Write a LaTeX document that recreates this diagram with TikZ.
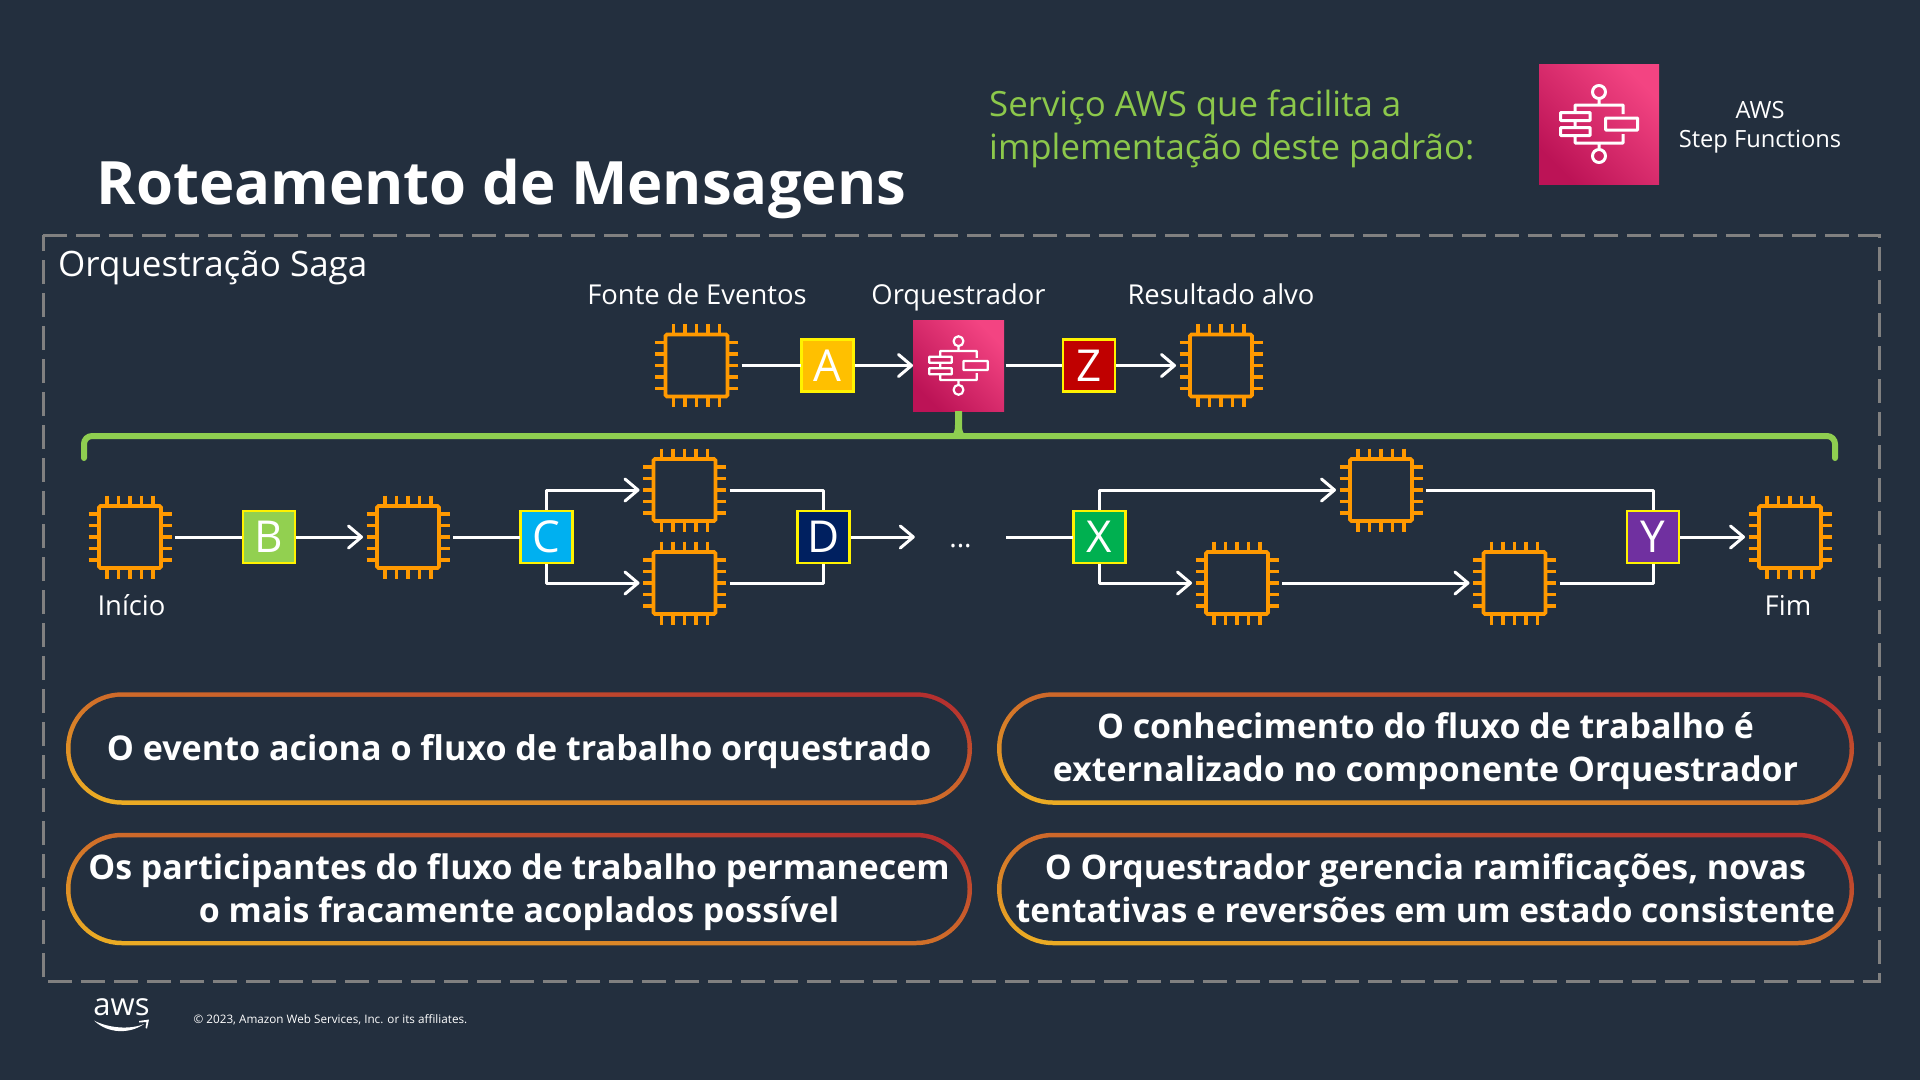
\documentclass[tikz,border=0pt]{standalone}
\usepackage{fontspec}
\setmainfont{Open Sans}
\usetikzlibrary{arrows.meta,calc}
\definecolor{slidebg}{HTML}{232F3E}
\definecolor{chiporange}{HTML}{FF9900}
\definecolor{bracegreen}{HTML}{8FCE50}
\definecolor{titlegreen}{HTML}{8CC84B}
\definecolor{framegrey}{HTML}{808080}
\definecolor{pinkdark}{HTML}{BC1356}
\definecolor{pinklight}{HTML}{F34482}
\definecolor{pillred}{HTML}{B5302F}
\definecolor{pillorange}{HTML}{EBAB24}
\newcommand{\fsize}[1]{\fontsize{#1}{#1}\selectfont}
\newcommand{\ps}{\vrule height 32pt depth 8pt width 0pt}
\tikzstyle{every picture}=[> = {Straight Barb[length=13pt,width=22pt,line cap=round,round]}]
\tikzstyle{flow}=[draw=white,line width=3pt,line join=round]
\tikzstyle{chipbox}=[draw=chiporange,line width=3.6pt,rounded corners=1.5pt,minimum size=62pt,inner sep=0pt,outer sep=14pt]
\tikzstyle{chippin}=[draw=chiporange,line width=3.6pt]
\tikzstyle{tagbox}=[draw=yellow,line width=2.2pt,minimum size=52pt,inner sep=0pt,outer sep=1pt,text=white,font=\fsize{44}]
\tikzstyle{iconbox}=[shading=axis,top color=pinklight,bottom color=pinkdark,shading angle=-45,inner sep=0pt,outer sep=0pt]
\tikzstyle{caption}=[anchor=base,text=white,font=\fsize{27.4},inner sep=0pt]
\tikzstyle{pillouter}=[shading=axis,top color=pillred,bottom color=pillorange,shading angle=-7,rounded corners=56pt,minimum height=112.5pt,inner sep=0pt]
\tikzstyle{pillinner}=[fill=slidebg,rounded corners=51.5pt,minimum height=103.5pt,inner sep=0pt,text=white,align=center,font=\fontsize{33.9}{43}\selectfont\bfseries]
\newcommand{\chipnode}[2]{%
  \node[chipbox] (#1) at (#2) {};
  \foreach \d in {-23,-11.5,0,11.5,23} {
    \draw[chippin] (#1.center) ++(\d,-41.5) -- ++(0,10);
    \draw[chippin] (#1.center) ++(\d,41.5) -- ++(0,-10);
    \draw[chippin] (#1.center) ++(-41.5,\d) -- ++(10,0);
    \draw[chippin] (#1.center) ++(41.5,\d) -- ++(-10,0);
  }}
\newcommand{\pillnode}[5]{%
  \node[pillouter,minimum width=#3pt] (#1) at (#2) {};
  \node[pillinner,minimum width=#4pt] (#1text) at (#1.center) {#5};}
\tikzset{
  stepicon/.pic={
    \tikzset{x=1pt,y=-1pt}
    \draw[white,line width=#1,line join=round]
      (0,-32) circle (6.5)
      (0,-25.5) -- (0,-19)
      (-24,-11.5) -- (-24,-19) -- (24,-19) -- (24,-10)
      (-38.5,-11.5) rectangle (-9,-3.5)
      (-24,-3.5) -- (-24,3.5)
      (-38.5,3.5) rectangle (-9,11.5)
      (-24,11.5) -- (-24,19) -- (24,19) -- (24,10)
      (6.5,-6) rectangle (38.5,6)
      (0,19) -- (0,25.5)
      (0,32) circle (6.5);
  }
}
\begin{document}
\begin{tikzpicture}[x=1pt,y=-1pt]
  \fill[slidebg,use as bounding box] (0,0) rectangle (1920,1080);

  \node[anchor=base west,inner sep=0pt,text=white,font=\fsize{59.8}\bfseries] (title) at (96.5,204) {Roteamento de Mensagens};
  \node[anchor=west,inner sep=0pt,text=titlegreen,align=left,font=\fontsize{34.8}{43}\selectfont] (service) at (989,129) {Serviço AWS que facilita a\\implementação deste padrão:};
  \node[iconbox,minimum size=120pt] (stepfn) at (1599,124) {};
  \pic[scale=1] at (stepfn.center) {stepicon={3pt}};
  \node[text=white,inner sep=0pt,align=center,font=\fontsize{23.7}{29}\selectfont] (stepname) at (1760,127.5) {AWS\\Step Functions};

  \draw[framegrey,line width=3pt,dash pattern=on 24pt off 9pt] (43,235) -- (1879,235) -- (1879,981) -- (43,981) -- cycle;
  \node[anchor=base west,inner sep=0pt,text=white,font=\fsize{35}] (saga) at (58,276) {Orquestração Saga};

  \node[caption] (sourcelabel) at (697,304.5) {Fonte de Eventos};
  \node[caption] (orchlabel) at (958.5,304.5) {Orquestrador};
  \node[caption] (resultlabel) at (1221,304.5) {Resultado alvo};

  \chipnode{source}{696.5,365.5}
  \chipnode{result}{1221,365.5}
  \node[iconbox,minimum size=91pt] (orch) at (958.5,365.5) {};
  \pic[scale=.76] at (orch.center) {stepicon={2.2pt}};
  \node[tagbox,fill={rgb,255:red,255;green,192;blue,0}] (tagA) at (827.5,365.5) {A};
  \node[tagbox,fill={rgb,255:red,192;green,0;blue,0}] (tagZ) at (1089,365.5) {Z};
  \draw[flow] (source.east) to (tagA);
  \draw[flow,->] (tagA) to (orch);
  \draw[flow] (orch) ++(47,0) to (tagZ);
  \draw[flow,->] (tagZ) to (result.west);

  \coordinate (braceleft) at (84,458);
  \coordinate (braceright) at (1835,458);
  \coordinate (bracemid) at (958.5,436);
  \draw[bracegreen,line width=6pt,rounded corners=8pt,line cap=round] (braceleft) |- (bracemid) -| (braceright);
  \fill[bracegreen] (955,411) -- (962,411) -- (962,425) .. controls (962,431) and (963,433) .. (966,436) -- (951,436) .. controls (954,433) and (955,431) .. (955,425) -- cycle;

  \chipnode{start}{130,537}
  \chipnode{second}{408,537}
  \chipnode{upperC}{684.5,490}
  \chipnode{lowerC}{684.5,583}
  \chipnode{upperX}{1381,490}
  \chipnode{lowerX}{1237,583}
  \chipnode{nextX}{1514.5,583}
  \chipnode{finish}{1790,537}

  \node[tagbox,fill={rgb,255:red,146;green,208;blue,80}] (tagB) at (269,537) {B};
  \node[tagbox,fill={rgb,255:red,0;green,176;blue,240}] (tagC) at (546.5,537) {C};
  \node[tagbox,fill={rgb,255:red,0;green,32;blue,96}] (tagD) at (823.5,537) {D};
  \node[tagbox,fill={rgb,255:red,0;green,176;blue,80}] (tagX) at (1099.5,537) {X};
  \node[tagbox,fill={rgb,255:red,112;green,48;blue,160}] (tagY) at (1653,537) {Y};
  \node[inner sep=0pt,minimum width=91pt,text height=20pt,text depth=0pt,text=white,font=\fsize{28}] (dots) at (960.5,537) {...};

  \draw[flow] (start.east) to (tagB);
  \draw[flow,->] (tagB) to (second.west);
  \draw[flow] (second.east) to (tagC);
  \draw[flow,->] (tagC.north) |- (upperC.west);
  \draw[flow,->] (tagC.south) |- (lowerC.west);
  \draw[flow] (upperC.east) -| (tagD.north);
  \draw[flow] (lowerC.east) -| (tagD.south);
  \draw[flow,->] (tagD) to (dots.west);
  \draw[flow] (dots.east) to (tagX);
  \draw[flow,->] (tagX.north) |- (upperX.west);
  \draw[flow,->] (tagX.south) |- (lowerX.west);
  \draw[flow,->] (lowerX.east) to (nextX.west);
  \draw[flow] (upperX.east) -| (tagY.north);
  \draw[flow] (nextX.east) -| (tagY.south);
  \draw[flow,->] (tagY) to (finish.west);

  \node[caption] (startlabel) at (131.5,615) {Início};
  \node[caption] (finishlabel) at (1788,615) {Fim};

  \pillnode{pillA}{519,748.5}{906}{897}{\fontsize{34.1}{43}\selectfont\ps O evento aciona o fluxo de trabalho orquestrado}
  \pillnode{pillB}{1425.5,748.5}{857}{848}{\ps O conhecimento do fluxo de trabalho é\\\ps externalizado no componente Orquestrador}
  \pillnode{pillC}{519,889}{906}{897}{\ps Os participantes do fluxo de trabalho permanecem\\\ps o mais fracamente acoplados possível}
  \pillnode{pillD}{1425.5,889}{857}{848}{\ps O Orquestrador gerencia ramificações, novas\\\fontsize{33.45}{43}\selectfont\ps tentativas e reversões em um estado consistente}

  \node[anchor=base,inner sep=0pt,text=white,font=\fsize{31}] (awslogo) at (121.5,1015) {aws};
  \coordinate (smileleft) at (94,1020.5);
  \coordinate (smileright) at (144,1024);
  \fill[white] (smileleft) .. controls (108,1028) and (130,1030) .. (smileright) .. controls (130,1034) and (108,1034) .. (smileleft) -- cycle;
  \fill[white] (139,1021) -- (149,1019.5) -- (147,1028.5) -- (145.5,1028) -- (146.5,1022) -- (139,1022.5) -- cycle;
  \node[anchor=west,inner sep=0pt,text=white,font=\fsize{11.7}] (copyright) at (193.5,1020) {© 2023, Amazon Web Services, Inc. or its affiliates.};
\end{tikzpicture}
\end{document}
